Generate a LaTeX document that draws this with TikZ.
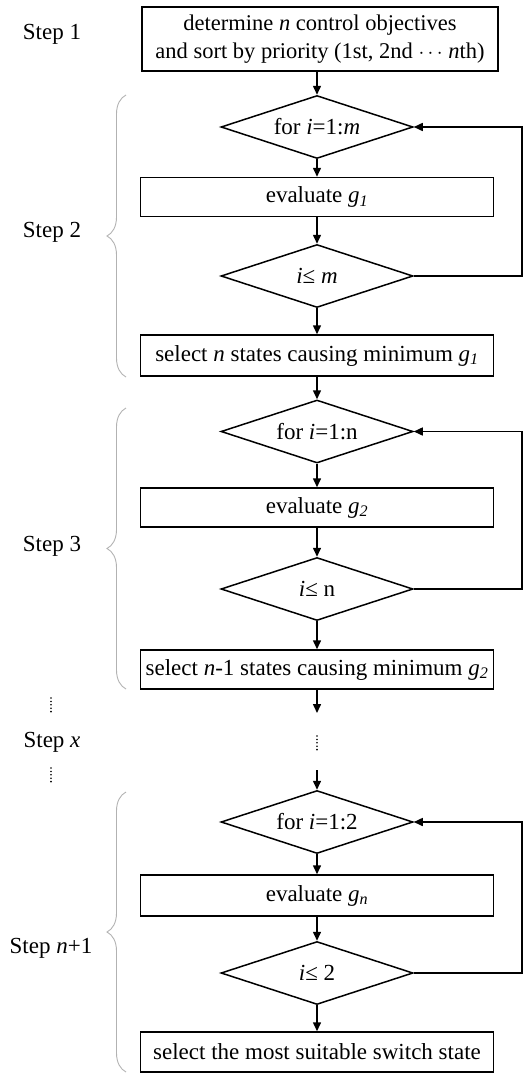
\documentclass[tikz,border=0pt]{standalone}
\usepackage{fontspec}
\setmainfont{Liberation Serif}
\usetikzlibrary{shapes.geometric,arrows.meta,decorations.pathreplacing}
\begin{document}
\begin{tikzpicture}[x=1pt,y=-1pt,
  font=\fontsize{23}{26}\selectfont,
  box/.style={draw,line width=1.5pt,minimum width=353pt,minimum height=39pt,inner sep=0pt,align=center},
  dia/.style={draw,line width=1.5pt,diamond,aspect=3,minimum width=192pt,minimum height=63pt,inner sep=0pt},
  arr/.style={line width=1.5pt,-{Triangle[length=9pt,width=8pt]}},
  brc/.style={draw=gray!60,line width=0.9pt,decorate,decoration={brace,amplitude=19pt}},
  vdot/.style={line width=1.8pt,line cap=round,dash pattern=on 0pt off 3.4pt},
  lbl/.style={inner sep=0pt}
]
\useasboundingbox (0,0) rectangle (528,1076);

% Step 1
\node[box,minimum width=356pt,minimum height=64pt,font=\fontsize{22.5}{27.5}\selectfont] (t) at (320,39) {determine \textit{n} control objectives\\and sort by priority (1st, 2nd\ $\cdots$\ \textit{n}th)};
\node[lbl] (l1) at (52,34) {Step 1};

% Step 2
\node[dia] (d1) at (317,127) {for \textit{i}=1:\textit{m}};
\node[box] (e1) at (317,197) {evaluate \textit{g}\textsubscript{\textit{1}}};
\node[dia] (d2) at (317,276) {\textit{i}≤ \textit{m}};
\node[box,minimum height=41pt] (s1) at (317,355.5) {select \textit{n} states causing minimum \textit{g}\textsubscript{\textit{1}}};
\node[lbl] (l2) at (52,232) {Step 2};
\coordinate (r1) at (522,276);
\draw[arr] (t.south -| d1.north) -- (d1.north);
\draw[arr] (d1) -- (e1);
\draw[arr] (e1) -- (d2);
\draw[arr] (d2) -- (s1);
\draw[arr] (d2.east) -- (r1) |- (d1.east);
\draw[brc] (126,377) -- (126,95);

% Step 3
\node[dia] (d3) at (317,431.5) {for \textit{i}=1:n};
\node[box] (e2) at (317,507.5) {evaluate \textit{g}\textsubscript{\textit{2}}};
\node[dia] (d4) at (317,589) {\textit{i}≤ n};
\node[box] (s2) at (317,669.5) {select \textit{n}-1 states causing minimum \textit{g}\textsubscript{\textit{2}}};
\node[lbl] (l3) at (52,546) {Step 3};
\coordinate (r2) at (522,589);
\draw[arr] (s1) -- (d3);
\draw[arr] (d3) -- (e2);
\draw[arr] (e2) -- (d4);
\draw[arr] (d4) -- (s2);
\draw[arr] (d4.east) -- (r2) |- (d3.east);
\draw[brc] (126,689) -- (126,408);

% Step x
\coordinate (a1) at (317,713);
\coordinate (a2) at (317,770);
\draw[arr] (s2) -- (a1);
\draw[vdot] (317,736) -- (317,752);
\node[lbl] (lx) at (52,742) {Step \textit{x}};
\draw[vdot] (51,698) -- (51,714);
\draw[vdot] (51,768) -- (51,784);

% Step n+1
\node[dia] (d5) at (317,822) {for \textit{i}=1:2};
\node[box,minimum height=41pt] (e3) at (317,895.5) {evaluate \textit{g}\textsubscript{\textit{n}}};
\node[dia] (d6) at (317,973) {\textit{i}≤ 2};
\node[box,minimum height=40pt] (s3) at (317,1052) {select the most suitable switch state};
\node[lbl] (ln) at (51,948) {Step \textit{n}+1};
\coordinate (r3) at (522,973);
\draw[arr] (a2) -- (d5);
\draw[arr] (d5) -- (e3);
\draw[arr] (e3) -- (d6);
\draw[arr] (d6) -- (s3);
\draw[arr] (d6.east) -- (r3) |- (d5.east);
\draw[brc] (126,1072) -- (126,792);
\end{tikzpicture}
\end{document}
